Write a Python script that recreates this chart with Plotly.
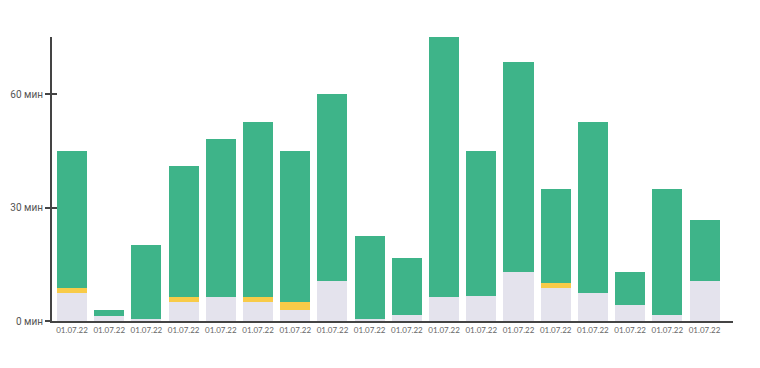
import plotly.graph_objects as go

labels = ["01.07.22"] * 18
gray = [7.5, 1.3, 0.4, 5.0, 6.3, 5.0, 2.8, 10.6, 0.4, 1.6, 6.3, 6.6, 13.0, 8.8, 7.4, 4.2, 1.7, 10.6]
yellow = [1.3, 0, 0, 1.4, 0, 1.4, 2.2, 0, 0, 0, 0, 0, 0, 1.2, 0, 0, 0, 0]
green = [36.1, 1.6, 19.8, 34.5, 41.7, 46.2, 39.9, 49.4, 22.2, 15.1, 68.7, 38.3, 55.5, 24.8, 45.2, 8.8, 33.1, 16.2]
ytick_vals = [0, 30, 60]
ytick_text = ["0 мин", "30 мин", "60 мин"]

x = list(range(len(labels)))

fig = go.Figure()
fig.add_bar(x=x, y=gray, marker=dict(color="#e4e3ed", line=dict(width=0)), hoverinfo="skip")
fig.add_bar(x=x, y=yellow, marker=dict(color="#f8cb48", line=dict(width=0)), hoverinfo="skip")
fig.add_bar(x=x, y=green, marker=dict(color="#3eb489", line=dict(width=0)), hoverinfo="skip")
# invisible trace for the inside half of the crossing ticks
fig.add_scatter(x=[0], y=[0], yaxis="y2", mode="markers", marker=dict(opacity=0), hoverinfo="skip")

yr = [0, 75.1]
fig.update_layout(
    barmode="stack",
    bargap=0.193,
    width=760, height=368,
    margin=dict(l=44, r=35, t=29, b=55),
    paper_bgcolor="white", plot_bgcolor="white",
    showlegend=False,
    font=dict(family="Lato", color="#555"),
    xaxis=dict(
        range=[-0.538, 17.765],
        tickmode="array", tickvals=x, ticktext=labels,
        tickfont=dict(size=8, color="#666"),
        showgrid=False, zeroline=False,
        showline=True, linecolor="#444", linewidth=2,
        ticks="", ticklen=0, automargin=False,
    ),
    yaxis=dict(
        range=yr,
        tickmode="array", tickvals=ytick_vals, ticktext=ytick_text,
        tickfont=dict(size=10, color="#555", family="Roboto"),
        showgrid=False, zeroline=False,
        showline=True, linecolor="#444", linewidth=2,
        ticks="outside", ticklen=5, tickwidth=2, tickcolor="#444",
        automargin=False,
    ),
    yaxis2=dict(
        overlaying="y", side="left", anchor="x",
        range=yr,
        tickmode="array", tickvals=ytick_vals,
        showticklabels=False,
        showgrid=False, zeroline=False, showline=False,
        ticks="inside", ticklen=5, tickwidth=2, tickcolor="#444",
        automargin=False,
    ),
)

fig.write_html("out.html")
